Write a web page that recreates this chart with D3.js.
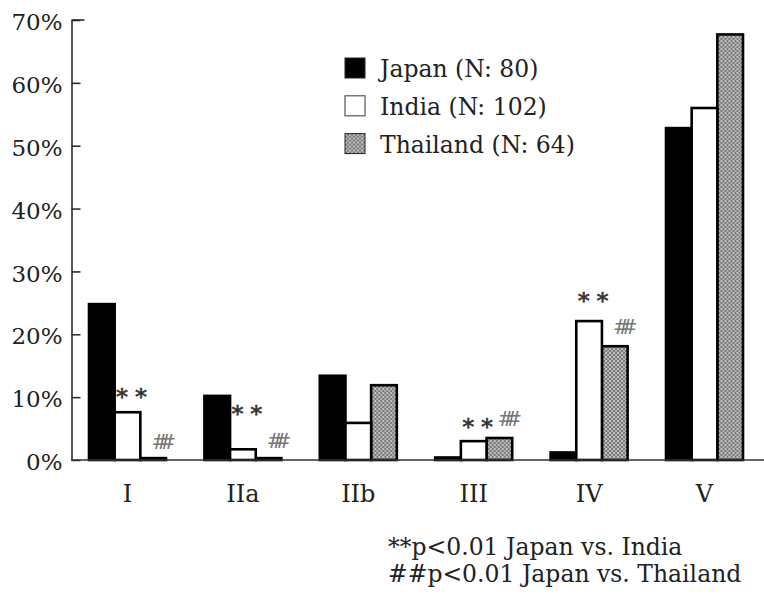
<!DOCTYPE html>
<html>
<head>
<meta charset="utf-8">
<script src="https://cdn.jsdelivr.net/npm/d3@7"></script>
<style>
  body { margin: 0; background: #fff; }
  svg { display: block; font-family: "DejaVu Serif", "Liberation Serif", serif; }
  .axis path, .axis line { stroke: #222; stroke-width: 1.5; }
  .axis text { fill: #222; font-size: 23px; font-family: "DejaVu Serif", serif; }
</style>
</head>
<body>
<div id="chart"></div>
<script>
// ---- data (percent)
const categories = ["I", "IIa", "IIb", "III", "IV", "V"];
const seriesNames = ["Japan (N: 80)", "India (N: 102)", "Thailand (N: 64)"];
const japan = [24.8, 10.2, 13.4, 0.4, 1.2, 52.8];
const india = [7.6, 1.7, 5.9, 3.0, 22.1, 56.0];
const thailand = [0.3, 0.3, 11.9, 3.5, 18.1, 67.7];
const yTicks = [0, 10, 20, 30, 40, 50, 60, 70];

// significance marks: category + level (percent) where the mark sits
const sigIndia = ["I", "IIa", "III", "IV"];
const sigIndiaLevel = [10.7, 8.0, 5.9, 25.9];
const sigThai = ["I", "IIa", "III", "IV"];
const sigThaiLevel = [2.9, 3.0, 6.6, 21.2];

const notes = ["**p<0.01 Japan vs. India", "##p<0.01 Japan vs. Thailand"];

// ---- size
const w = 764;
const h = 599;
const pLeft = 71.5;
const pTop = 20;
const baseY = 460;

const svg = d3.select("#chart").append("svg")
    .attr("width", w)
    .attr("height", h);

// pattern for Thailand
const defs = svg.append("defs");
const pat = defs.append("pattern")
    .attr("id", "dots")
    .attr("patternUnits", "userSpaceOnUse")
    .attr("width", 4)
    .attr("height", 4);
pat.append("rect").attr("width", 4).attr("height", 4).attr("fill", "#7a7a7a");
pat.append("circle").attr("cx", 1).attr("cy", 1).attr("r", 0.9).attr("fill", "#e8e8e8");
pat.append("circle").attr("cx", 3).attr("cy", 3).attr("r", 0.9).attr("fill", "#d0d0d0");

const fills = ["#000", "#fff", "url(#dots)"];
const values = [japan, india, thailand];

// SCALES
const xScale = d3.scalePoint()
    .domain(categories)
    .range([127.5, 704.5]);

const xInner = d3.scaleBand()
    .domain(d3.range(seriesNames.length))
    .range([-38.5, 38.5]);

const yScale = d3.scaleLinear()
    .domain([0, 70])
    .range([baseY, pTop]);

// Y AXIS (ticks pointing inward)
const yAxis = d3.axisLeft(yScale)
    .tickValues(yTicks)
    .tickFormat((d) => d + "%")
    .tickSizeInner(-9)
    .tickSizeOuter(0)
    .tickPadding(9);

svg.append("g")
    .attr("class", "axis")
    .attr("transform", `translate(${pLeft},0)`)
    .call(yAxis)
    .call((g) => g.selectAll("text").attr("dy", "0.42em"));

// top tick a bit longer
svg.append("line")
    .attr("x1", pLeft).attr("x2", pLeft + 13)
    .attr("y1", yScale(70)).attr("y2", yScale(70))
    .attr("stroke", "#222").attr("stroke-width", 1.5);

// BARS
const groups = svg.append("g")
    .selectAll("g")
    .data(categories)
    .enter()
    .append("g")
    .attr("transform", (d) => `translate(${xScale(d)},0)`);

// draw Japan, Thailand, then India so shared edges stay crisp
[0, 2, 1].forEach((s) => {
    groups.append("rect")
        .attr("x", xInner(s))
        .attr("y", (d, i) => yScale(values[s][i]))
        .attr("width", xInner.bandwidth())
        .attr("height", (d, i) => yScale(0) - yScale(values[s][i]))
        .attr("fill", fills[s])
        .attr("stroke", "#000")
        .attr("stroke-width", 2.6);
});

// X baseline
svg.append("line")
    .attr("x1", pLeft).attr("x2", w)
    .attr("y1", baseY).attr("y2", baseY)
    .attr("stroke", "#333").attr("stroke-width", 1.5);

// X labels
svg.append("g")
    .selectAll("text")
    .data(categories)
    .enter()
    .append("text")
    .attr("x", (d) => xScale(d))
    .attr("y", 502)
    .attr("text-anchor", "middle")
    .style("font-size", "24px")
    .style("fill", "#222")
    .text((d) => d);

// significance marks
svg.append("g")
    .selectAll("text")
    .data(sigIndia)
    .enter()
    .append("text")
    .attr("x", (d) => xScale(d) + xInner(1) + xInner.bandwidth() / 2 + 4)
    .attr("y", (d, i) => yScale(sigIndiaLevel[i]) + 12)
    .attr("text-anchor", "middle")
    .style("font-size", "23px")
    .style("fill", "#333")
    .style("stroke", "#333")
    .style("stroke-width", 0.6)
    .text("* *");

svg.append("g")
    .selectAll("text")
    .data(sigThai)
    .enter()
    .append("text")
    .attr("x", (d) => xScale(d) + xInner(2) + xInner.bandwidth() / 2 + 6)
    .attr("y", (d, i) => yScale(sigThaiLevel[i]) + 7)
    .attr("text-anchor", "middle")
    .style("font-size", "20px")
    .style("letter-spacing", "-9px")
    .style("fill", "#777")
    .text("##");

// LEGEND
const legend = svg.append("g")
    .selectAll("g")
    .data(seriesNames)
    .enter()
    .append("g")
    .attr("transform", (d, i) => `translate(345, ${58 + i * 37.8})`);

legend.append("rect")
    .attr("width", 20)
    .attr("height", 20)
    .attr("fill", (d, i) => fills[i])
    .attr("stroke", (d, i) => (i === 1 ? "#555" : "#222"))
    .attr("stroke-width", (d, i) => (i === 1 ? 1.2 : 1));

legend.append("text")
    .attr("x", 35)
    .attr("y", 19)
    .style("font-size", "23.5px")
    .style("fill", "#222")
    .text((d) => d);

// FOOTNOTES
svg.append("g")
    .selectAll("text")
    .data(notes)
    .enter()
    .append("text")
    .attr("x", 388)
    .attr("y", (d, i) => 555 + i * 27)
    .style("font-size", "23.5px")
    .style("fill", "#222")
    .text((d) => d);
</script>
</body>
</html>
